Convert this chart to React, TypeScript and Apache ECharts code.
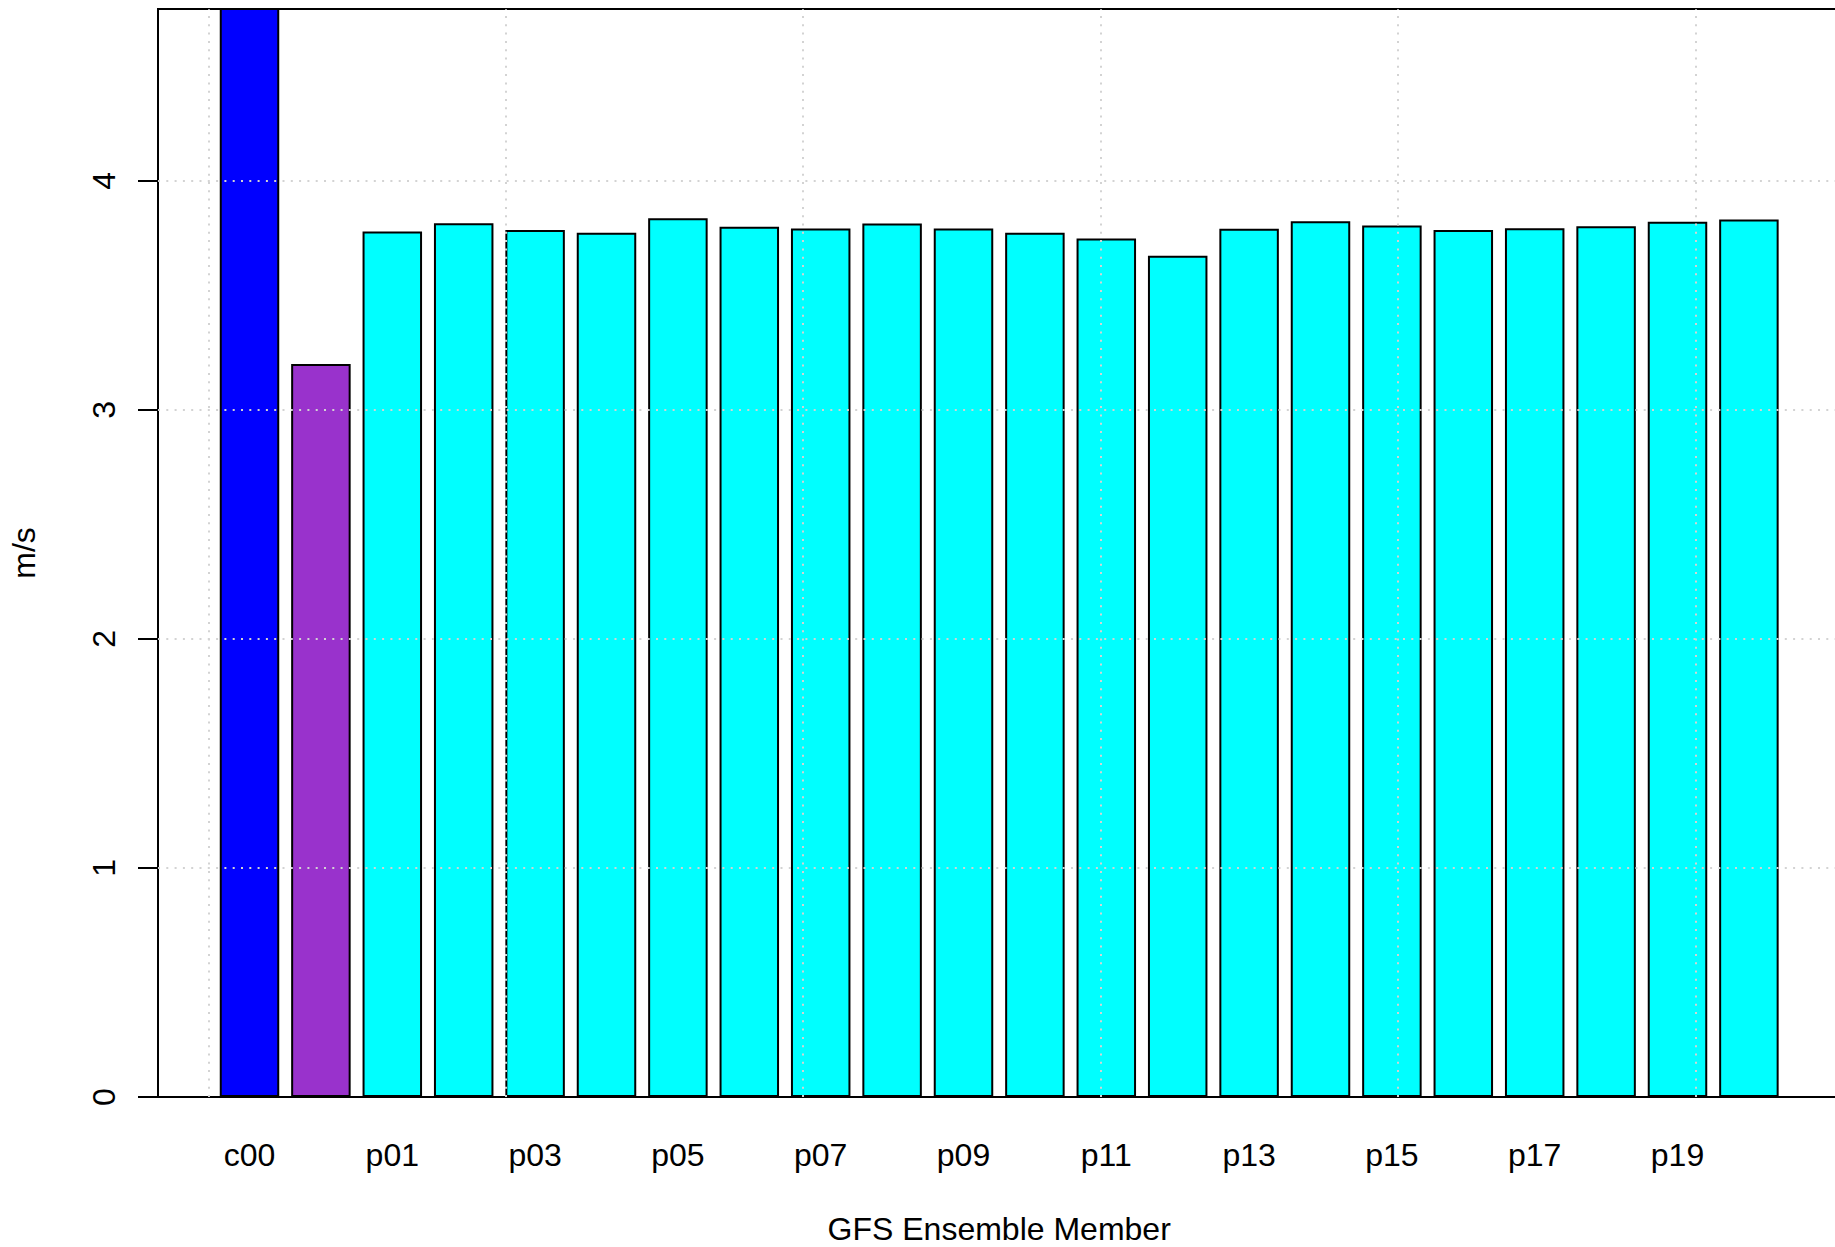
import React, { useEffect, useRef } from "react";
import * as echarts from "echarts";

// Data
const categories = [
  "c00", "avg", "p01", "p02", "p03", "p04", "p05", "p06", "p07", "p08", "p09",
  "p10", "p11", "p12", "p13", "p14", "p15", "p16", "p17", "p18", "p19", "p20",
];
const speeds = [
  4.9, 3.2, 3.779, 3.815, 3.785, 3.773, 3.836, 3.799, 3.792, 3.814, 3.792,
  3.773, 3.748, 3.673, 3.791, 3.823, 3.805, 3.785, 3.793, 3.802, 3.821, 3.831,
];
const barColors = [
  "#0000FF", "#9932CC",
  "#00FFFF", "#00FFFF", "#00FFFF", "#00FFFF", "#00FFFF", "#00FFFF", "#00FFFF",
  "#00FFFF", "#00FFFF", "#00FFFF", "#00FFFF", "#00FFFF", "#00FFFF", "#00FFFF",
  "#00FFFF", "#00FFFF", "#00FFFF", "#00FFFF", "#00FFFF", "#00FFFF",
];
const yTickValues = [0, 1, 2, 3, 4];
const yGridValues = [1, 2, 3, 4];
const xGridValues = [0, 5, 10, 15, 20, 25];
const yMax = 4.75;
const xUserMin = -0.848;
const xUserMax = 27.448;

const FONT = "Liberation Sans, Arial, Helvetica, sans-serif";

export default function App() {
  const ref = useRef<HTMLDivElement>(null);

  useEffect(() => {
    if (!ref.current) return;
    const chart = echarts.init(ref.current, undefined, { renderer: "svg" });
    const gridLineStyle = { color: "#D3D3D3", width: 2, type: [2, 6.3] as any };
    chart.setOption({
      animation: false,
      backgroundColor: "#FFFFFF",
      textStyle: { fontFamily: FONT },
      grid: [
        {
          left: 158, right: -6, top: 9, bottom: 150,
          show: true, borderColor: "#000000", borderWidth: 2,
          backgroundColor: "transparent",
          containLabel: false,
          outerBoundsMode: "none",
        },
        {
          left: 213.8, right: 50.4, top: 9, bottom: 150,
          containLabel: false,
          outerBoundsMode: "none",
        },
      ],
      xAxis: [
        {
          type: "value", gridIndex: 0, min: xUserMin, max: xUserMax,
          show: false,
        },
        {
          type: "category", gridIndex: 1, data: categories,
          axisLine: { show: false }, axisTick: { show: false },
          splitLine: { show: false },
          axisLabel: {
            interval: 1, fontSize: 32, color: "#000000", margin: 42,
            fontFamily: FONT,
          },
          name: "GFS Ensemble Member",
          nameLocation: "middle",
          nameGap: 116,
          nameTextStyle: {
            fontSize: 32, lineHeight: 32, color: "#000000", fontFamily: FONT,
          },
        },
      ],
      yAxis: [
        {
          type: "value", gridIndex: 0, min: 0, max: yMax,
          position: "left",
          axisLine: { show: false, onZero: false },
          splitLine: { show: false },
          axisTick: {
            show: true, inside: false, length: 20, customValues: yTickValues,
            lineStyle: { color: "#000000", width: 2, type: "solid" },
          },
          axisLabel: {
            customValues: yTickValues, rotate: 90, fontSize: 32,
            color: "#000000", margin: 38, fontFamily: FONT,
          },
          name: "m/s",
          nameLocation: "middle",
          nameRotate: 90,
          nameGap: 118,
          nameTextStyle: { fontSize: 32, color: "#000000", fontFamily: FONT },
        },
        {
          type: "value", gridIndex: 1, min: 0, max: yMax, show: false,
        },
      ],
      series: [
        {
          type: "bar",
          xAxisIndex: 1,
          yAxisIndex: 1,
          barWidth: "83.333%",
          z: 2,
          data: speeds.map((v, i) => ({
            value: v,
            itemStyle: { color: barColors[i] },
          })),
          itemStyle: { borderColor: "#000000", borderWidth: 2 },
        },
        {
          type: "line",
          xAxisIndex: 0,
          yAxisIndex: 0,
          data: [],
          z: 5,
          silent: true,
          markLine: {
            silent: true,
            symbol: ["none", "none"],
            label: { show: false },
            lineStyle: gridLineStyle,
            emphasis: { disabled: true },
            data: [
              ...xGridValues.map((x) => ({ xAxis: x })),
              ...yGridValues.map((y) => ({ yAxis: y })),
            ],
          },
        },
      ],
    });
    return () => chart.dispose();
  }, []);

  return (
    <div
      ref={ref}
      style={{ position: "fixed", left: 0, top: 0, width: 1835, height: 1247 }}
    />
  );
}
